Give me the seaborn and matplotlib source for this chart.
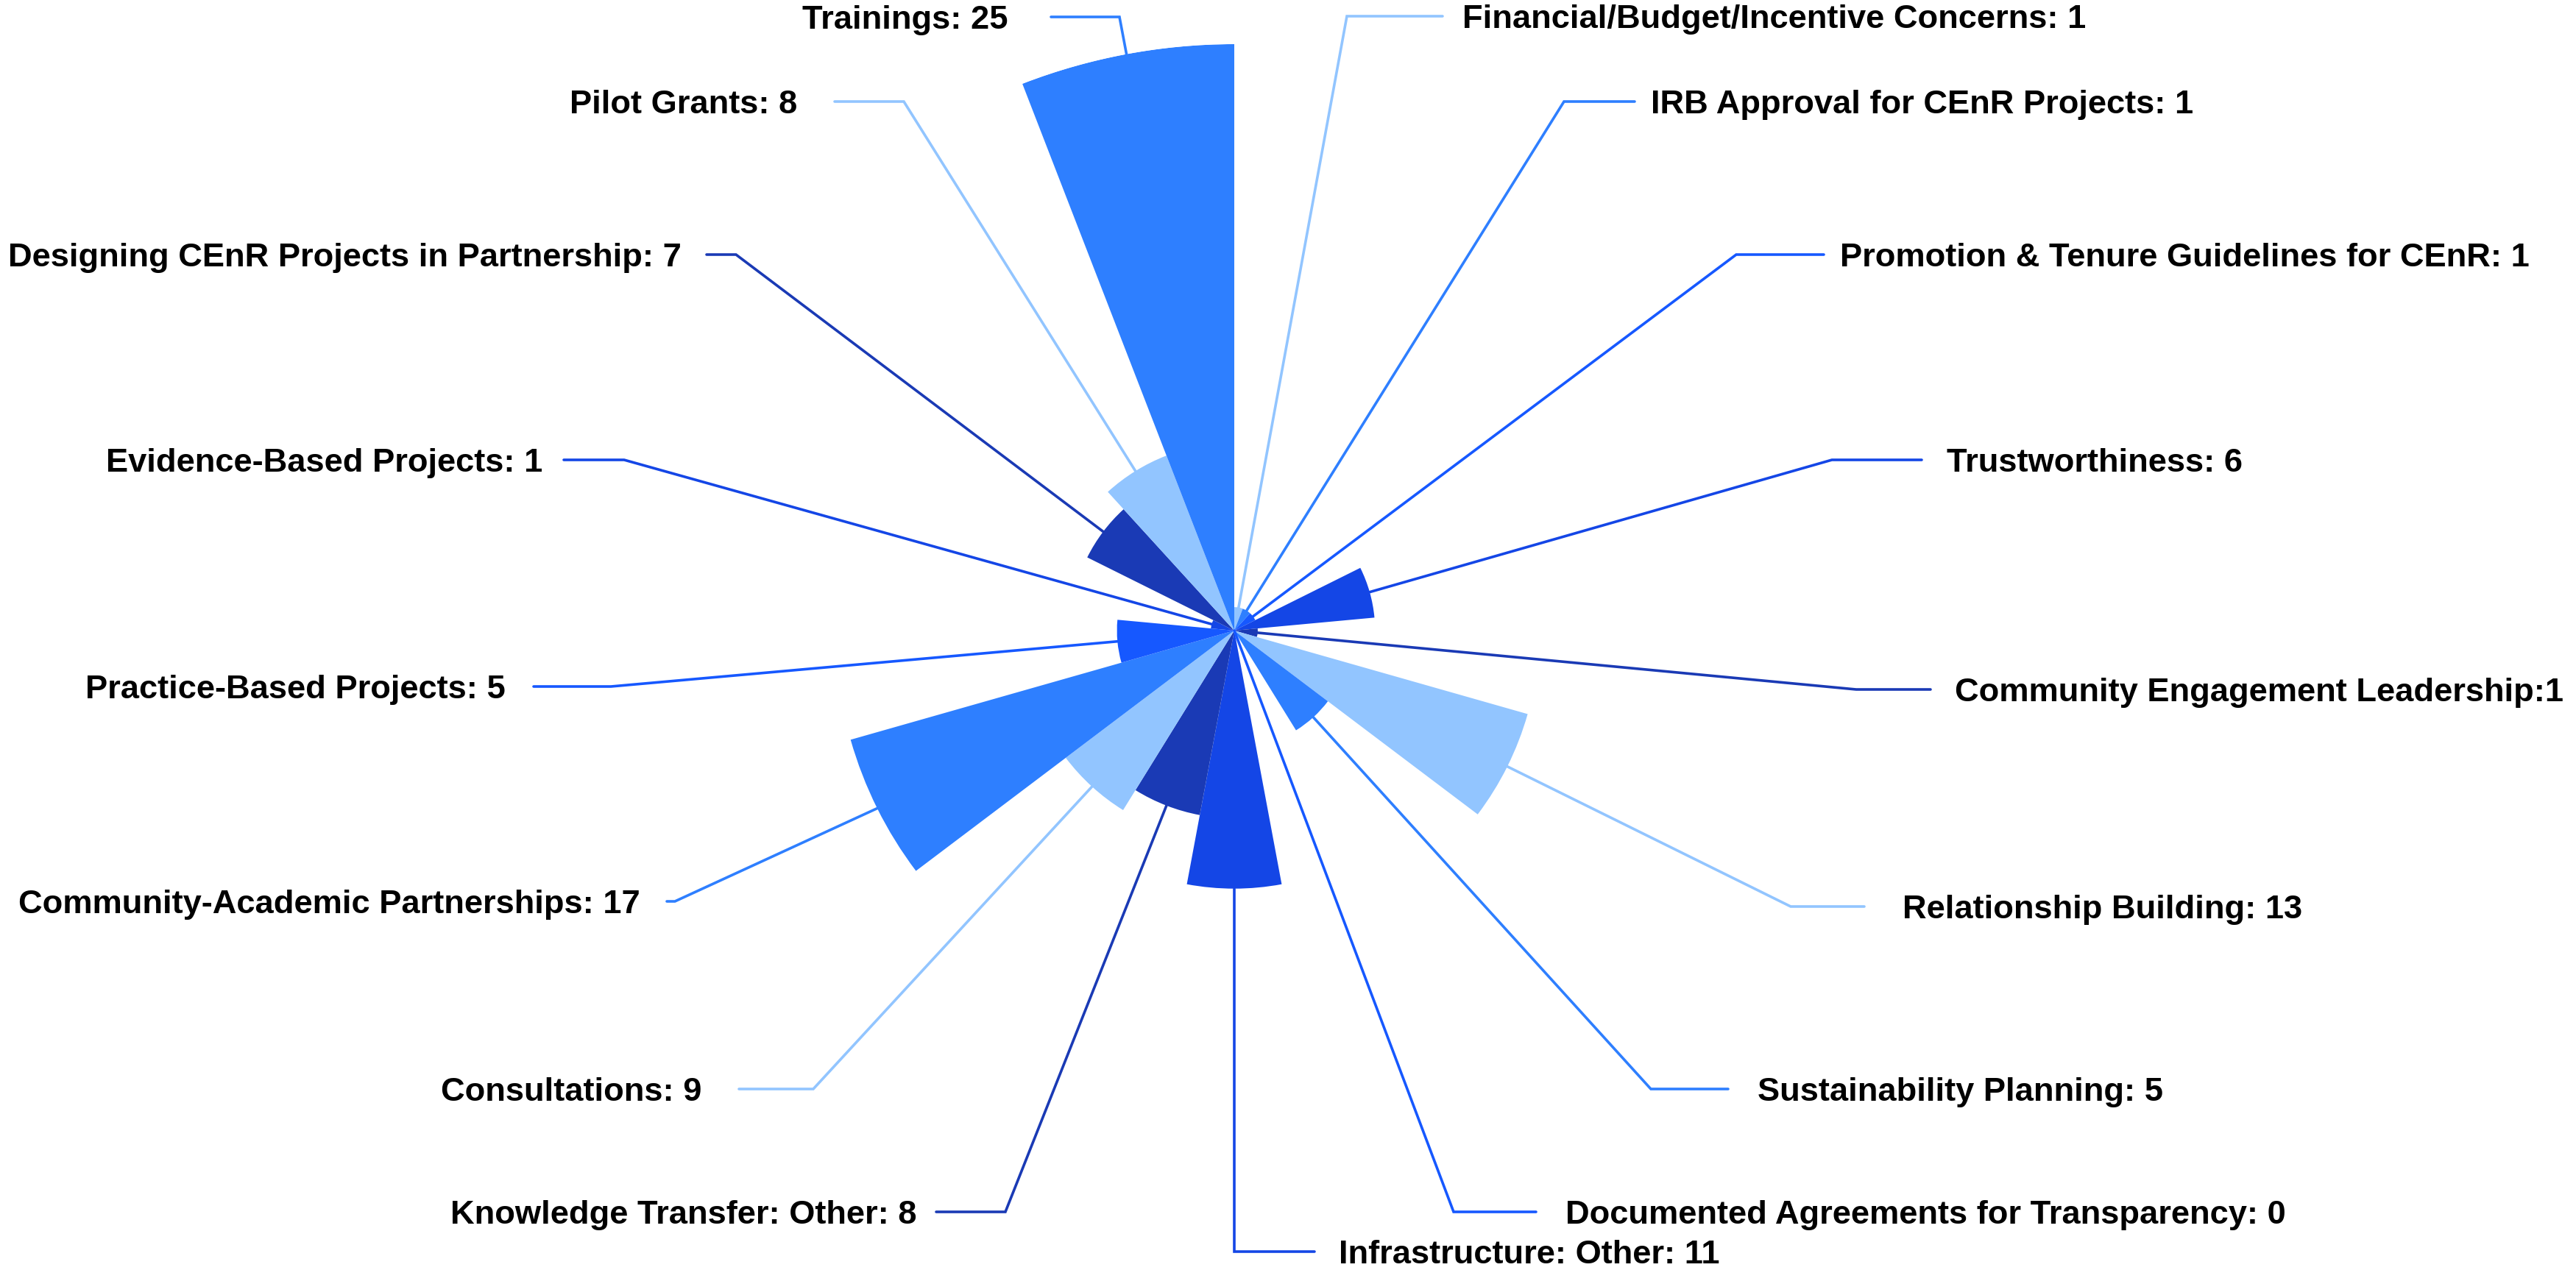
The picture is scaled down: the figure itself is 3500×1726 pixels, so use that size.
import numpy as np
import matplotlib
matplotlib.use("Agg")
import matplotlib.pyplot as plt
import seaborn as sns

# slices, clockwise from 12 o'clock
categories = [
    "Financial/Budget/Incentive Concerns", "IRB Approval for CEnR Projects",
    "Promotion & Tenure Guidelines for CEnR", "Trustworthiness",
    "Community Engagement Leadership", "Relationship Building",
    "Sustainability Planning", "Documented Agreements for Transparency",
    "Infrastructure: Other", "Knowledge Transfer: Other", "Consultations",
    "Community-Academic Partnerships", "Practice-Based Projects",
    "Evidence-Based Projects", "Designing CEnR Projects in Partnership",
    "Pilot Grants", "Trainings",
]
values = [1, 1, 1, 6, 1, 13, 5, 0, 11, 8, 9, 17, 5, 1, 7, 8, 25]
separators = [": "] * 4 + [":"] + [": "] * 12

palette = ["#92C5FF", "#2E7FFF", "#1658FF", "#1446E6", "#1A3AB5"]

# label layout in output pixels (x from left, y from top)
elbows = [(1830, 22), (2125, 138), (2359, 346), (2489, 625), (2522, 937),
          (2433, 1232), (2243, 1480), (1975, 1647), (1677, 1701),
          (1366, 1647), (1105, 1480), (917, 1225), (830, 933), (848, 625),
          (1000, 346), (1228, 138), (1521, 23)]
line_ends = [1960, 2221, 2478, 2611, 2623, 2533, 2348, 2087, 1786,
             1272, 1004, 906, 725, 766, 960, 1134, 1428]
text_x = [1987, 2243, 2500, 2645, 2656, 2585, 2388, 2127, 1819,
          1245, 953, 870, 687, 737, 926, 1083, 1370]

W, H = 3500, 1726
cx, cy, R = 1677, 857, 797

sns.set_theme(style="white")
plt.rcParams["font.family"] = ["Liberation Sans", "DejaVu Sans"]

fig = plt.figure(figsize=(W / 100, H / 100), dpi=100)
fig.patch.set_facecolor("white")

ax = fig.add_axes([(cx - R) / W, (H - cy - R) / H, 2 * R / W, 2 * R / H],
                  projection="polar")
ax.set_theta_zero_location("N")
ax.set_theta_direction(-1)
n = len(values)
width = 2 * np.pi / n
theta = (np.arange(n) + 0.5) * width
colors = [palette[i % len(palette)] for i in range(n)]
ax.bar(theta, values, width=width, color=colors, edgecolor="none", align="center")
ax.set_ylim(0, max(values))
ax.axis("off")

# overlay in pixel coordinates for label lines and text
ov = fig.add_axes([0, 0, 1, 1], facecolor="none")
ov.set_xlim(0, W)
ov.set_ylim(H, 0)
ov.axis("off")

to_ov = ov.transData.inverted()
for i in range(n):
    sx, sy = to_ov.transform(ax.transData.transform((theta[i], values[i])))
    ex, ey = elbows[i]
    ov.plot([sx, ex, line_ends[i]], [sy, ey, ey], color=colors[i], lw=2.6,
            solid_joinstyle="miter")
    left = text_x[i] > line_ends[i]
    ov.text(text_x[i], ey + 16, f"{categories[i]}{separators[i]}{values[i]}",
            ha="left" if left else "right", va="baseline",
            fontsize=32.6, fontweight="bold", color="#000000")

fig.savefig("out.png", dpi=100, facecolor="white")
